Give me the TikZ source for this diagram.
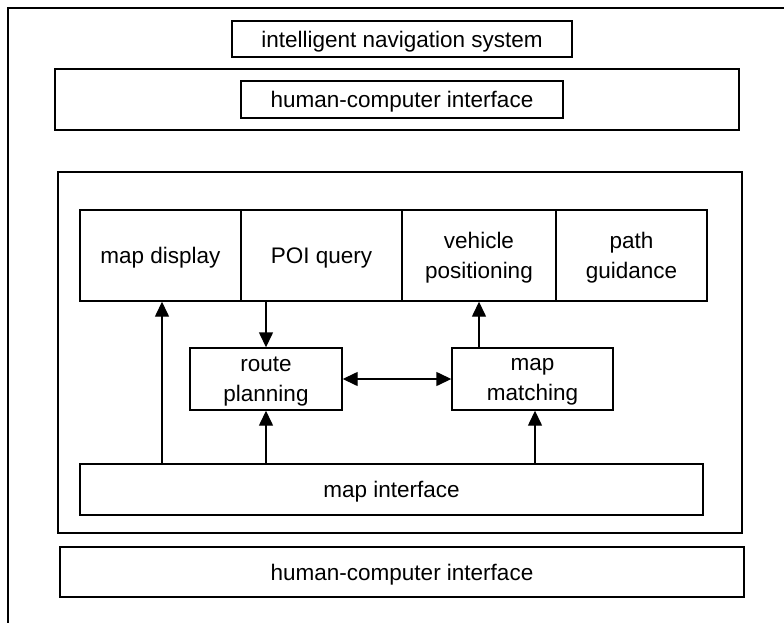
\documentclass[tikz,border=0pt]{standalone}
\usepackage{fontspec}
\setmainfont{Liberation Sans}
\usetikzlibrary{arrows.meta}

\begin{document}
\begin{tikzpicture}[x=1pt,y=-1pt,
		box/.style={
			draw,
			line width=1.4pt,
			align=center,
			inner sep=0pt,
			text depth=0pt,
			font=\fontsize{22.5}{30}\selectfont,
			fill=white
		},
		frame/.style={
			draw,
			line width=1.4pt,
			inner sep=0pt
		},
		line/.style={draw, line width=1.4pt},
		arr/.style={line, -{Triangle[length=15pt,width=14pt]}},
		dblarr/.style={line, {Triangle[length=15pt,width=14pt]}-{Triangle[length=15pt,width=14pt]}}
		]
		\useasboundingbox (0,0) rectangle (784,623);
		
		% Outer border (cut off at right and bottom)
		\draw[line width=1.1pt] (784,8) -- (8,8) -- (8,623);
		
		% Title
		\node[box, minimum width=340pt, minimum height=36pt] (title) at (402,39) {intelligent navigation system};
		
		% Upper human-computer interface
		\node[frame, minimum width=684pt, minimum height=61pt] (hciup) at (397,99.5) {};
		\node[box, minimum width=322pt, minimum height=37pt] (hciin) at (402,99.5) {human-computer interface};
		
		% Core frame
		\node[frame, minimum width=684pt, minimum height=361pt] (core) at (400,352.5) {};
		
		% Function modules
		\node[box, minimum width=161pt, minimum height=91pt] (disp) at (160.5,255.5) {map display};
		\node[box, minimum width=161pt, minimum height=91pt] (poi) at (321.5,255.5) {POI query};
		\node[box, minimum width=154pt, minimum height=91pt] (vpos) at (479,255.5) {vehicle\\positioning};
		\node[box, minimum width=151pt, minimum height=91pt] (guide) at (631.5,255.5) {path\\guidance};
		
		% Route planning and map matching
		\node[box, minimum width=152pt, minimum height=62pt] (route) at (266,379) {route\\planning};
		\node[box, minimum width=161pt, minimum height=62pt] (match) at (532.5,379) {map\\matching};
		
		% Map interface
		\node[box, minimum width=623pt, minimum height=51pt] (mapif) at (391.5,489.5) {map interface};
		
		% Lower human-computer interface
		\node[box, minimum width=684pt, minimum height=50pt] (hcidown) at (402,572) {human-computer interface};
		
		% Data flow
		\draw[arr] ([xshift=1.5pt]mapif.north -| disp) -- ([xshift=1.5pt]disp.south);
		\draw[arr] (poi.south -| route) -- (route.north);
		\draw[arr] (mapif.north -| route) -- (route.south);
		\draw[dblarr] (route.east) -- (match.west);
		\draw[arr] ([xshift=2.5pt]mapif.north -| match) -- ([xshift=2.5pt]match.south);
		\draw[arr] (match.north -| vpos) -- (vpos.south);
		
\end{tikzpicture}
\end{document}
